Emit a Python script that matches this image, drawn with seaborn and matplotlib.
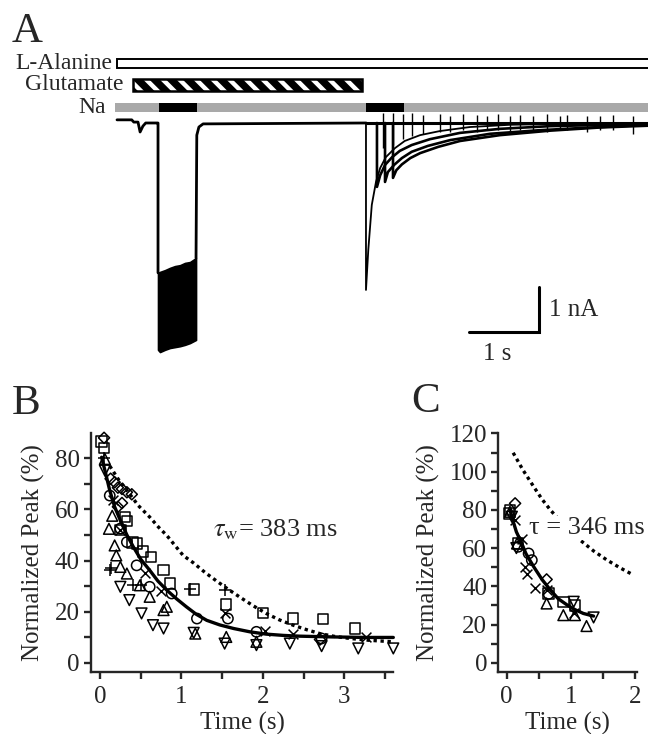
import matplotlib
matplotlib.use("Agg")
import matplotlib.pyplot as plt
import seaborn as sns
from matplotlib.patches import Rectangle

sns.set_style("ticks")
plt.rcParams["font.family"] = ["Liberation Serif", "DejaVu Serif"]
plt.rcParams["mathtext.fontset"] = "stix"
plt.rcParams["hatch.linewidth"] = 3.2
plt.rcParams["hatch.color"] = "white"

# ---------------- panel A : current traces (s, nA) ----------------
pre_t = [0.00, 0.21, 0.24, 0.30, 0.33, 0.37, 0.41, 0.57, 0.586, 0.586]
pre_i = [0.07, 0.07, 0.02, 0.02, -0.20, -0.07, 0.00, 0.00, 0.00, -3.33]

band_t = [0.586, 0.614, 0.686, 0.757, 0.829, 0.900, 0.971, 1.043, 1.129]
band_top = [-3.33, -3.31, -3.27, -3.22, -3.18, -3.16, -3.11, -3.09, -3.00]
band_bot = [-5.04, -5.09, -5.04, -5.00, -4.98, -4.96, -4.93, -4.89, -4.82]

post_t = [1.129, 1.14, 1.17, 1.23, 3.56]
post_i = [-3.00, -0.27, -0.09, -0.02, 0.00]

sweep1_t = [3.557, 3.557, 3.59, 3.64, 3.70, 3.76, 3.84, 3.97, 4.11, 4.33, 4.61, 5.04, 5.61, 6.33, 7.59]
sweep1_i = [0.00, -3.71, -2.82, -1.82, -1.31, -1.00, -0.76, -0.56, -0.40, -0.27, -0.18, -0.09, -0.04, -0.02, 0.00]
sweep2_t = [3.714, 3.714, 3.76, 3.83, 3.93, 4.04, 4.21, 4.47, 4.90, 5.47, 6.19, 7.59]
sweep2_i = [0.00, -1.42, -1.16, -0.93, -0.76, -0.62, -0.49, -0.36, -0.22, -0.13, -0.07, -0.02]
sweep3_t = [3.829, 3.829, 3.87, 3.96, 4.07, 4.21, 4.44, 4.76, 5.33, 6.04, 6.90, 7.59]
sweep3_i = [0.00, -1.31, -1.09, -0.93, -0.78, -0.64, -0.51, -0.38, -0.24, -0.16, -0.09, -0.04]
sweep4_t = [3.943, 3.943, 3.99, 4.07, 4.19, 4.33, 4.59, 4.90, 5.47, 6.19, 6.90, 7.59]
sweep4_i = [0.00, -1.22, -1.05, -0.92, -0.78, -0.67, -0.53, -0.40, -0.27, -0.17, -0.10, -0.06]

tick_t = [3.80, 3.94, 4.09, 4.21, 4.37, 4.61, 4.76, 4.94, 5.14, 5.29, 5.44,
          5.61, 5.76, 5.94, 6.14, 6.33, 6.43, 6.71, 6.90, 7.09, 7.37]
tick_lo = [-0.55, -0.50, -0.35, -0.30, -0.25, -0.20, -0.20, -0.15, -0.20, -0.15, -0.15,
           -0.25, -0.15, -0.15, -0.20, -0.15, -0.15, -0.20, -0.15, -0.15, -0.25]
tick_hi = [0.22, 0.22, 0.20, 0.22, 0.18, 0.20, 0.15, 0.20, 0.18, 0.15, 0.20,
           0.15, 0.18, 0.15, 0.20, 0.15, 0.18, 0.15, 0.15, 0.18, 0.15]

alanine_on = (0.0, 7.7)
glutamate_on = (0.229, 3.50)
na_span = (-0.03, 7.7)
na_off = [(0.60, 1.143), (3.557, 4.10)]

# ---------------- panel B : normalized peak (%) vs time (s) ----------------
b_sq_t = [0.02, 0.05, 0.25, 0.31, 0.33, 0.40, 0.45, 0.53, 0.63, 0.78, 0.86, 1.15, 1.55, 2.00, 2.37, 2.74, 3.13]
b_sq_y = [86.5, 84.0, 52.0, 57.0, 55.5, 47.0, 46.6, 43.5, 41.4, 36.2, 31.0, 28.6, 22.8, 19.6, 17.3, 17.0, 13.4]
b_di_t = [0.05, 0.13, 0.18, 0.22, 0.27, 0.33, 0.39, 0.22, 0.27, 2.70]
b_di_y = [88.0, 72.0, 70.6, 68.5, 68.0, 66.7, 65.9, 61.0, 62.5, 9.1]
b_up_t = [0.06, 0.11, 0.15, 0.18, 0.20, 0.25, 0.33, 0.49, 0.61, 0.78, 0.82, 1.17, 1.55, 1.92]
b_up_y = [79.7, 52.4, 57.5, 45.9, 42.0, 37.5, 34.9, 30.3, 25.8, 20.6, 21.9, 11.4, 10.1, 8.2]
b_dn_t = [0.06, 0.25, 0.36, 0.51, 0.65, 0.78, 1.15, 1.53, 1.92, 2.33, 2.72, 3.17, 3.60]
b_dn_y = [75.2, 29.7, 24.5, 19.3, 14.7, 13.4, 11.7, 7.5, 6.9, 7.5, 6.5, 5.6, 5.6]
b_pl_t = [0.05, 0.12, 0.14, 0.41, 0.50, 1.10, 1.53]
b_pl_y = [80.0, 36.2, 37.0, 30.3, 30.5, 29.0, 28.4]
b_ci_t = [0.12, 0.25, 0.33, 0.45, 0.61, 0.88, 1.19, 1.57, 1.92, 2.72]
b_ci_y = [65.4, 52.5, 47.2, 38.1, 29.7, 27.1, 17.3, 17.3, 12.1, 9.5]
b_x_t = [0.16, 0.25, 0.55, 0.75, 1.53, 2.02, 2.37, 3.27]
b_x_y = [63.5, 51.8, 35.0, 28.0, 19.3, 12.5, 11.4, 10.1]

b_fit_t = [0.02, 0.07, 0.12, 0.18, 0.25, 0.33, 0.41, 0.50, 0.61, 0.71, 0.82, 0.94, 1.06,
           1.18, 1.31, 1.47, 1.64, 1.84, 2.04, 2.25, 2.45, 2.86, 3.27, 3.60]
b_fit_y = [80.4, 74.0, 67.4, 61.0, 55.7, 50.0, 45.3, 40.5, 36.2, 32.0, 28.4, 25.0, 21.9,
           19.0, 16.6, 14.8, 13.4, 12.1, 11.2, 10.7, 10.4, 10.1, 9.9, 9.9]
b_ref_t = [0.12, 0.22, 0.33, 0.47, 0.61, 0.72, 0.82, 1.02, 1.15, 1.29, 1.43, 1.58, 1.72,
           1.88, 2.04, 2.20, 2.37, 2.54, 2.70, 2.88, 3.07, 3.30, 3.60]
b_ref_y = [77.0, 72.0, 67.5, 61.5, 57.0, 53.0, 49.8, 42.0, 39.0, 35.3, 32.0, 28.6, 25.6,
           22.3, 19.3, 16.8, 14.7, 12.9, 11.4, 10.3, 9.5, 8.8, 8.2]

# ---------------- panel C ----------------
c_sq_t = [0.03, 0.05, 0.18, 0.65, 0.88, 1.06]
c_sq_y = [78.1, 80.0, 62.4, 36.3, 31.9, 30.0]
c_di_t = [0.13, 0.62]
c_di_y = [83.4, 43.6]
c_up_t = [0.05, 0.16, 0.62, 0.88, 1.06, 1.24]
c_up_y = [79.0, 62.4, 31.0, 24.9, 24.9, 19.2]
c_dn_t = [0.08, 0.15, 1.04, 1.35]
c_dn_y = [76.4, 60.0, 31.9, 23.7]
c_ci_t = [0.18, 0.34, 0.39, 0.65]
c_ci_y = [60.7, 57.2, 53.7, 36.0]
c_x_t = [0.13, 0.23, 0.29, 0.31, 0.44, 0.62, 1.04]
c_x_y = [74.7, 65.0, 50.2, 46.7, 38.9, 38.0, 25.8]

c_fit_t = [0.05, 0.10, 0.15, 0.21, 0.30, 0.42, 0.55, 0.68, 0.80, 0.94, 1.06, 1.19, 1.35]
c_fit_y = [79.9, 74.0, 68.5, 64.2, 57.0, 50.2, 43.5, 38.0, 33.5, 30.2, 27.8, 25.8, 24.4]
c_ref_t = [0.10, 0.25, 0.42, 0.55, 0.68, 0.90, 1.14, 1.35, 1.56, 1.77, 1.97]
c_ref_y = [109.9, 101.0, 92.1, 85.5, 79.9, 71.5, 64.2, 58.5, 53.7, 49.5, 45.9]

fig = plt.figure(figsize=(6.48, 7.34), dpi=100)

# ===== A =====
axA = fig.add_axes([117 / 648, (734 - 370) / 734, 531 / 648, 320 / 734])
axA.set_xlim(0, 7.586)
axA.set_ylim(-5.489, 1.622)
axA.axis("off")

axA.add_patch(Rectangle((alanine_on[0], 1.22), alanine_on[1] - alanine_on[0], 0.20,
                        facecolor="white", edgecolor="black", lw=1.4, clip_on=False))
axA.add_patch(Rectangle((glutamate_on[0], 0.71), glutamate_on[1] - glutamate_on[0], 0.27,
                        facecolor="black", hatch="\\\\", lw=0, clip_on=False))
axA.add_patch(Rectangle((glutamate_on[0], 0.71), glutamate_on[1] - glutamate_on[0], 0.27,
                        facecolor="none", edgecolor="black", lw=1.8, clip_on=False))
axA.add_patch(Rectangle((na_span[0], 0.25), na_span[1] - na_span[0], 0.19,
                        facecolor="#a9a9a9", edgecolor="none", clip_on=False))
for t0, t1 in na_off:
    axA.add_patch(Rectangle((t0, 0.25), t1 - t0, 0.19, facecolor="black",
                            edgecolor="none", clip_on=False))

axA.text(-0.07, 1.32, "L-Alanine", ha="right", va="center", fontsize=17)
axA.text(0.086, 0.85, "Glutamate", ha="right", va="center", fontsize=17)
axA.text(-0.157, 0.35, "Na", ha="right", va="center", fontsize=17)

axA.fill_between(band_t, band_bot, band_top, color="black", lw=1.2)
for tt, ii, lw in [(pre_t, pre_i, 2.0), (post_t, post_i, 2.0),
                   (sweep1_t, sweep1_i, 1.3), (sweep2_t, sweep2_i, 1.9),
                   (sweep3_t, sweep3_i, 1.9), (sweep4_t, sweep4_i, 1.9)]:
    sns.lineplot(x=tt, y=ii, ax=axA, color="black", lw=lw, sort=False,
                 estimator=None, clip_on=False)
axA.vlines(tick_t, tick_lo, tick_hi, color="black", lw=1.0)
axA.hlines(0.0, 3.56, 7.59, color="black", lw=2.2)

# scale bar
axA.plot([5.03, 6.03, 6.03], [-4.64, -4.64, -3.64], color="black", lw=2.2,
         solid_joinstyle="miter")
axA.text(6.17, -4.16, "1 nA", ha="left", va="center", fontsize=18)
axA.text(5.43, -5.13, "1 s", ha="center", va="center", fontsize=18)


def style_axis(ax):
    sns.despine(ax=ax)
    for s in ("left", "bottom"):
        ax.spines[s].set_linewidth(1.7)
    ax.tick_params(which="both", direction="out", length=5, width=1.7,
                   labelsize=18, pad=3)
    ax.tick_params(axis="x", pad=5)


def draw_points(ax, t, y, marker, size):
    if marker in ("+", "x"):
        kw = dict(color="black")
    else:
        kw = dict(color="black", facecolor="none", edgecolor="black")
    sns.scatterplot(x=t, y=y, marker=marker, s=size, linewidth=1.1, ax=ax,
                    clip_on=False, legend=False, zorder=3, **kw)


# ===== B =====
axB = fig.add_axes([90.7 / 648, 62.3 / 734, 302.6 / 648, 239 / 734])
axB.set_xlim(-0.114, 3.6)
axB.set_ylim(-3.5, 90)
axB.set_xticks([0, 1, 2, 3])
axB.set_xticks([0.5, 1.5, 2.5, 3.5], minor=True)
axB.set_yticks([0, 20, 40, 60, 80])
axB.set_yticks([10, 30, 50, 70], minor=True)
style_axis(axB)

sns.lineplot(x=b_ref_t, y=b_ref_y, ax=axB, color="black", lw=2.4,
             linestyle=(0, (1, 1.1)), sort=False, estimator=None, clip_on=False)
sns.lineplot(x=b_fit_t, y=b_fit_y, ax=axB, color="black", lw=2.4, sort=False,
             estimator=None, clip_on=False)
draw_points(axB, b_sq_t, b_sq_y, "s", 55)
draw_points(axB, b_di_t, b_di_y, "D", 32)
draw_points(axB, b_up_t, b_up_y, "^", 60)
draw_points(axB, b_dn_t, b_dn_y, "v", 60)
draw_points(axB, b_pl_t, b_pl_y, "+", 65)
draw_points(axB, b_ci_t, b_ci_y, "o", 55)
draw_points(axB, b_x_t, b_x_y, "x", 50)

axB.text(1.39, 49.5, r"$\tau_{\mathrm{w}}$= 383 ms", fontsize=19, va="baseline")
axB.set_xlabel("Time (s)", fontsize=18, labelpad=3)
axB.set_ylabel("Normalized Peak (%)", fontsize=18, labelpad=7)

# ===== C =====
axC = fig.add_axes([498.3 / 648, 62.3 / 734, 138.4 / 648, 239 / 734])
axC.set_xlim(-0.131, 2.02)
axC.set_ylim(-4.7, 120.4)
axC.set_xticks([0, 1, 2])
axC.set_xticks([0.5, 1.5], minor=True)
axC.set_yticks([0, 20, 40, 60, 80, 100, 120])
axC.set_yticks([10, 30, 50, 70, 90, 110], minor=True)
style_axis(axC)

sns.lineplot(x=c_ref_t, y=c_ref_y, ax=axC, color="black", lw=2.4,
             linestyle=(0, (1, 1.1)), sort=False, estimator=None, clip_on=False)
sns.lineplot(x=c_fit_t, y=c_fit_y, ax=axC, color="black", lw=2.4, sort=False,
             estimator=None, clip_on=False)
draw_points(axC, c_sq_t, c_sq_y, "s", 55)
draw_points(axC, c_di_t, c_di_y, "D", 32)
draw_points(axC, c_up_t, c_up_y, "^", 60)
draw_points(axC, c_dn_t, c_dn_y, "v", 60)
draw_points(axC, c_ci_t, c_ci_y, "o", 55)
draw_points(axC, c_x_t, c_x_y, "x", 50)

axC.text(0.34, 67.3, "\u03c4 = 346 ms", fontsize=19, va="baseline", zorder=5,
         bbox=dict(facecolor="white", edgecolor="none", pad=0.5))
axC.set_xlabel("Time (s)", fontsize=18, labelpad=3)
axC.set_ylabel("Normalized Peak (%)", fontsize=18, labelpad=7)

# panel letters
fig.text(12 / 648, 1 - 12 / 734, "A", fontsize=31, va="top", ha="left")
fig.text(12 / 648, 1 - 385 / 734, "B", fontsize=31, va="top", ha="left")
fig.text(411 / 648, 1 - 383 / 734, "C", fontsize=31, va="top", ha="left")

fig.savefig("out.png", dpi=100)
